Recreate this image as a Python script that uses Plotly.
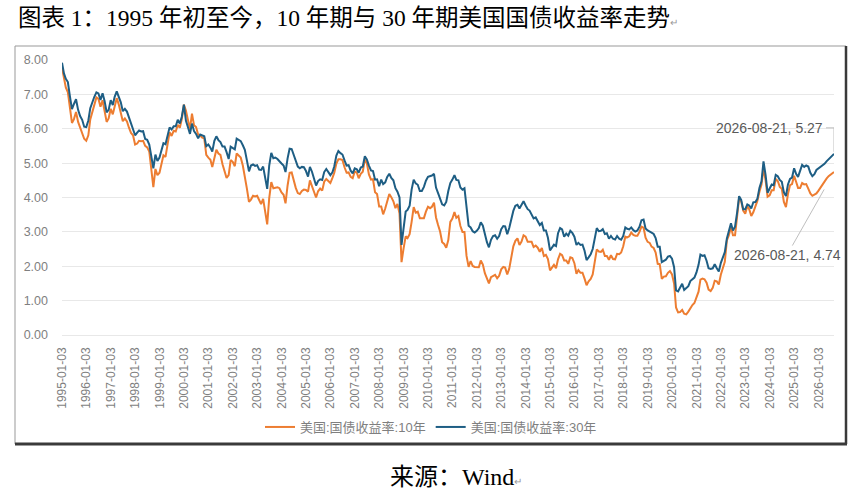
import pandas as pd
import plotly.graph_objects as go

# ---------------- data (monthly readings, %) ----------------
START_DATE = "1995-01-03"
END_DATE = "2026-08-21"
N_MONTHS = 380

TICK_LABELS = [f"{y}-01-03" for y in range(1995, 2027)]

YIELD_10Y = [
    7.78, 7.47, 7.20, 7.06, 6.63, 6.17, 6.28, 6.49, 6.20, 6.04, 5.93, 5.71,  # 1995
    5.65, 5.81, 6.27, 6.51, 6.74, 6.91, 6.87, 6.64, 6.83, 6.53, 6.20, 6.30,  # 1996
    6.58, 6.42, 6.69, 6.89, 6.71, 6.49, 6.22, 6.30, 6.21, 6.03, 5.88, 5.81,  # 1997
    5.54, 5.57, 5.65, 5.64, 5.65, 5.50, 5.46, 5.34, 4.81, 4.30, 4.83, 4.65,  # 1998
    4.72, 5.00, 5.23, 5.18, 5.54, 5.90, 5.79, 5.94, 5.92, 6.11, 6.03, 6.28,  # 1999
    6.70, 6.52, 6.26, 5.99, 6.44, 6.10, 6.05, 5.83, 5.80, 5.74, 5.72, 5.24,  # 2000
    5.16, 5.10, 4.89, 5.14, 5.39, 5.28, 5.24, 4.97, 4.73, 4.57, 4.65, 5.09,  # 2001
    5.04, 4.91, 5.28, 5.21, 5.16, 4.93, 4.65, 4.26, 3.87, 3.94, 4.05, 4.03,  # 2002
    4.05, 3.90, 3.81, 3.96, 3.57, 3.22, 3.98, 4.45, 4.27, 4.29, 4.30, 4.27,  # 2003
    4.15, 4.08, 3.83, 4.35, 4.72, 4.73, 4.50, 4.28, 4.13, 4.10, 4.19, 4.23,  # 2004
    4.22, 4.17, 4.50, 4.34, 4.14, 4.00, 4.18, 4.26, 4.20, 4.46, 4.54, 4.47,  # 2005
    4.42, 4.57, 4.72, 4.99, 5.11, 5.11, 5.09, 4.88, 4.72, 4.73, 4.60, 4.56,  # 2006
    4.76, 4.72, 4.56, 4.69, 4.75, 5.10, 5.00, 4.67, 4.52, 4.53, 4.15, 4.10,  # 2007
    3.74, 3.74, 3.51, 3.68, 3.88, 4.10, 4.01, 3.89, 3.69, 3.81, 3.53, 2.12,  # 2008
    2.52, 2.87, 2.82, 2.93, 3.29, 3.72, 3.56, 3.59, 3.40, 3.39, 3.40, 3.59,  # 2009
    3.73, 3.69, 3.73, 3.85, 3.42, 3.20, 3.01, 2.70, 2.65, 2.54, 2.76, 3.29,  # 2010
    3.39, 3.58, 3.41, 3.46, 3.17, 3.00, 3.00, 2.30, 1.98, 2.15, 2.01, 1.98,  # 2011
    1.97, 1.97, 2.17, 2.05, 1.80, 1.62, 1.50, 1.68, 1.72, 1.75, 1.65, 1.72,  # 2012
    1.91, 1.98, 1.96, 1.76, 1.93, 2.30, 2.58, 2.74, 2.81, 2.62, 2.72, 2.90,  # 2013
    2.86, 2.71, 2.72, 2.71, 2.56, 2.60, 2.54, 2.42, 2.53, 2.30, 2.33, 2.21,  # 2014
    1.88, 1.98, 2.04, 1.94, 2.20, 2.36, 2.32, 2.17, 2.17, 2.07, 2.26, 2.24,  # 2015
    2.09, 1.78, 1.89, 1.81, 1.81, 1.64, 1.45, 1.56, 1.63, 1.76, 2.14, 2.49,  # 2016
    2.43, 2.42, 2.48, 2.30, 2.30, 2.19, 2.32, 2.21, 2.20, 2.36, 2.35, 2.40,  # 2017
    2.58, 2.86, 2.84, 2.87, 2.98, 2.91, 2.89, 2.89, 3.00, 3.15, 3.12, 2.83,  # 2018
    2.71, 2.68, 2.57, 2.53, 2.40, 2.07, 2.06, 1.63, 1.70, 1.71, 1.81, 1.86,  # 2019
    1.76, 1.50, 0.80, 0.66, 0.67, 0.73, 0.62, 0.60, 0.68, 0.79, 0.87, 0.93,  # 2020
    1.08, 1.26, 1.61, 1.64, 1.62, 1.52, 1.32, 1.28, 1.37, 1.58, 1.56, 1.47,  # 2021
    1.76, 1.93, 2.13, 2.75, 2.90, 3.14, 2.90, 2.90, 3.52, 3.98, 3.89, 3.62,  # 2022
    3.53, 3.75, 3.66, 3.46, 3.57, 3.75, 3.90, 4.17, 4.38, 4.85, 4.50, 4.02,  # 2023
    4.06, 4.21, 4.21, 4.54, 4.48, 4.31, 4.25, 3.87, 3.72, 4.10, 4.36, 4.39,  # 2024
    4.63, 4.45, 4.28, 4.28, 4.42, 4.38, 4.39, 4.26, 4.12, 4.05, 4.08, 4.12,  # 2025
    4.20, 4.30, 4.38, 4.48, 4.55, 4.62, 4.66, 4.74,                          # 2026
]

YIELD_30Y = [
    7.92, 7.61, 7.45, 7.36, 6.95, 6.57, 6.72, 6.86, 6.55, 6.37, 6.26, 6.06,  # 1995
    6.05, 6.24, 6.60, 6.79, 6.93, 7.06, 7.03, 6.84, 7.03, 6.81, 6.48, 6.55,  # 1996
    6.83, 6.69, 6.93, 7.09, 6.94, 6.77, 6.51, 6.58, 6.50, 6.33, 6.11, 5.99,  # 1997
    5.81, 5.89, 5.95, 5.92, 5.93, 5.70, 5.68, 5.54, 5.20, 4.85, 5.25, 5.06,  # 1998
    5.16, 5.37, 5.58, 5.55, 5.81, 6.04, 5.98, 6.07, 6.07, 6.26, 6.15, 6.35,  # 1999
    6.70, 6.23, 6.05, 5.85, 6.15, 5.93, 5.85, 5.72, 5.83, 5.80, 5.78, 5.49,  # 2000
    5.54, 5.45, 5.34, 5.65, 5.78, 5.67, 5.61, 5.48, 5.48, 5.32, 5.12, 5.48,  # 2001
    5.45, 5.40, 5.71, 5.67, 5.64, 5.52, 5.39, 5.08, 4.76, 4.93, 4.96, 4.92,  # 2002
    4.94, 4.81, 4.80, 4.90, 4.53, 4.25, 4.93, 5.30, 5.14, 5.16, 5.12, 5.07,  # 2003
    4.99, 4.93, 4.74, 5.14, 5.42, 5.41, 5.22, 5.06, 4.90, 4.85, 4.89, 4.88,  # 2004
    4.77, 4.61, 4.89, 4.75, 4.56, 4.35, 4.48, 4.53, 4.51, 4.74, 4.83, 4.73,  # 2005
    4.65, 4.73, 4.91, 5.22, 5.35, 5.29, 5.25, 5.08, 4.93, 4.94, 4.78, 4.70,  # 2006
    4.85, 4.82, 4.72, 4.87, 4.90, 5.20, 5.11, 4.93, 4.79, 4.77, 4.52, 4.53,  # 2007
    4.33, 4.52, 4.39, 4.44, 4.60, 4.69, 4.57, 4.50, 4.27, 4.17, 4.00, 2.62,  # 2008
    3.13, 3.59, 3.64, 3.76, 4.23, 4.52, 4.41, 4.37, 4.19, 4.19, 4.31, 4.49,  # 2009
    4.60, 4.62, 4.64, 4.69, 4.29, 4.13, 3.99, 3.80, 3.77, 3.87, 4.19, 4.42,  # 2010
    4.52, 4.65, 4.51, 4.50, 4.29, 4.23, 4.27, 3.65, 3.18, 3.13, 3.02, 2.98,  # 2011
    3.03, 3.11, 3.28, 3.18, 2.93, 2.70, 2.55, 2.77, 2.88, 2.90, 2.80, 2.88,  # 2012
    3.08, 3.17, 3.16, 2.93, 3.11, 3.40, 3.61, 3.76, 3.79, 3.68, 3.80, 3.89,  # 2013
    3.77, 3.66, 3.62, 3.52, 3.39, 3.42, 3.33, 3.20, 3.26, 3.04, 3.04, 2.83,  # 2014
    2.46, 2.57, 2.63, 2.59, 2.96, 3.11, 3.07, 2.86, 2.95, 2.89, 3.03, 2.97,  # 2015
    2.86, 2.62, 2.68, 2.62, 2.63, 2.45, 2.18, 2.26, 2.35, 2.50, 2.86, 3.11,  # 2016
    3.02, 3.03, 3.08, 2.94, 2.96, 2.80, 2.88, 2.80, 2.78, 2.88, 2.80, 2.77,  # 2017
    2.88, 3.13, 3.09, 3.07, 3.13, 3.05, 3.01, 3.04, 3.15, 3.34, 3.36, 3.10,  # 2018
    3.04, 3.02, 2.98, 2.94, 2.82, 2.57, 2.57, 2.12, 2.16, 2.19, 2.28, 2.30,  # 2019
    2.22, 1.97, 1.30, 1.27, 1.38, 1.49, 1.31, 1.36, 1.42, 1.57, 1.62, 1.67,  # 2020
    1.82, 2.04, 2.34, 2.30, 2.32, 2.16, 1.94, 1.92, 1.94, 2.06, 1.94, 1.85,  # 2021
    2.10, 2.25, 2.41, 2.81, 3.07, 3.25, 3.04, 3.15, 3.56, 4.04, 3.93, 3.66,  # 2022
    3.66, 3.80, 3.77, 3.68, 3.86, 3.87, 3.96, 4.28, 4.47, 5.05, 4.66, 4.14,  # 2023
    4.26, 4.38, 4.36, 4.66, 4.62, 4.51, 4.46, 4.15, 4.04, 4.38, 4.54, 4.58,  # 2024
    4.85, 4.68, 4.60, 4.77, 4.95, 4.89, 4.93, 4.90, 4.72, 4.62, 4.68, 4.80,  # 2025
    4.85, 4.88, 4.92, 4.98, 5.05, 5.12, 5.18, 5.27,                          # 2026
]

SERIES_NAMES = ["美国:国债收益率:10年", "美国:国债收益率:30年"]
TITLE = "图表 1：1995 年初至今，10 年期与 30 年期美国国债收益率走势"
SOURCE = "来源：Wind"

# ---------------- build ----------------
dates = pd.date_range("1995-01-01", periods=N_MONTHS, freq="MS").strftime("%Y-%m-%d").tolist()
dates[0] = START_DATE
dates[-1] = END_DATE

ORANGE = "#ED7D31"
BLUE = "#1E5E84"
GREY_TXT = "#7f7f7f"
SANS = "Liberation Sans, Arial, Noto Sans CJK SC"
SERIF = "Liberation Serif, Times New Roman, Noto Sans CJK SC"

# page body margin is removed below, so the figure fills the window
W, H = 859, 491
PLOT_L, PLOT_R, PLOT_T, PLOT_B = 62, 834, 60, 335      # window pixels
L, T, R, B = PLOT_L, PLOT_T, W - PLOT_R, H - PLOT_B
pw, ph = PLOT_R - PLOT_L, PLOT_B - PLOT_T


def xp(px):
    return (px - PLOT_L) / pw


def yp(py):
    return (PLOT_B - py) / ph


fig = go.Figure()
fig.add_trace(go.Scatter(x=dates, y=YIELD_10Y, mode="lines", name=SERIES_NAMES[0],
                         line=dict(color=ORANGE, width=2)))
fig.add_trace(go.Scatter(x=dates, y=YIELD_30Y, mode="lines", name=SERIES_NAMES[1],
                         line=dict(color=BLUE, width=2)))

fig.update_layout(
    width=W, height=H,
    margin=dict(l=L, r=R, t=T, b=B),
    paper_bgcolor="white", plot_bgcolor="white",
    title=dict(
        text=TITLE + "<span style='font-size:10px;color:#999999'>↵</span>",
        x=18 / W, xanchor="left", y=1 - 18 / H, yanchor="middle",
        font=dict(family=SERIF, size=23.5, color="black"),
    ),
    showlegend=True,
    legend=dict(orientation="h", x=xp(431), xanchor="center", y=yp(427), yanchor="middle",
                font=dict(family=SANS, size=13, color=GREY_TXT),
                itemwidth=30, bgcolor="rgba(0,0,0,0)", tracegroupgap=0),
    xaxis=dict(
        type="date", range=[START_DATE, END_DATE],
        tickmode="array", tickvals=TICK_LABELS, ticktext=TICK_LABELS,
        tickangle=-90, tickfont=dict(family=SANS, size=12, color=GREY_TXT),
        showgrid=False, showline=False, zeroline=False, ticks="",
        ticklabelstandoff=9,
    ),
    yaxis=dict(
        range=[0, 8], dtick=1, tickformat=".2f",
        tickfont=dict(family=SANS, size=12.5, color=GREY_TXT),
        showgrid=True, gridcolor="#e8e8e8", gridwidth=1.2,
        zeroline=True, zerolinecolor="#e8e8e8", zerolinewidth=1.2,
        showline=False, ticks="", ticklabelstandoff=13,
    ),
)

# frame around the chart (paper coordinates)
fig.add_shape(type="rect", xref="paper", yref="paper",
              x0=xp(15), x1=xp(846), y0=yp(444), y1=yp(46),
              line=dict(color="#999999", width=1), layer="above")
fig.add_shape(type="line", xref="paper", yref="paper",
              x0=xp(15), x1=xp(847), y0=yp(444), y1=yp(444),
              line=dict(color="#3a3a3a", width=3), layer="above")
fig.add_shape(type="line", xref="paper", yref="paper",
              x0=xp(846), x1=xp(846), y0=yp(444), y1=yp(46),
              line=dict(color="#3a3a3a", width=2.5), layer="above")

# end-point labels
last_date = dates[-1]
last_30 = YIELD_30Y[-1]
last_10 = YIELD_10Y[-1]
LABEL_COL = "#595959"
LEADER_COL = "#bfbfbf"

fig.add_annotation(x=last_date, y=last_30, xref="x", yref="y",
                   text=f"{last_date}, {last_30:.2f}", showarrow=False,
                   xanchor="right", yanchor="middle", xshift=-9, yshift=26,
                   font=dict(family=SANS, size=14, color=LABEL_COL))
fig.add_shape(type="path", xref="x", yref="y", xsizemode="pixel", ysizemode="pixel",
              xanchor=last_date, yanchor=last_30,
              path="M -8,26 L 0,26 L 0,2",
              line=dict(color=LEADER_COL, width=1))

fig.add_annotation(x=last_date, y=last_10, xref="x", yref="y",
                   text=f"{last_date}, {last_10:.2f}", showarrow=True,
                   arrowhead=0, arrowwidth=1, arrowcolor=LEADER_COL,
                   ax=-47, ay=83, standoff=20,
                   font=dict(family=SANS, size=14, color=LABEL_COL))

# source line
fig.add_annotation(x=xp(456), y=yp(477), xref="paper", yref="paper",
                   text=SOURCE + "<span style='font-size:10px;color:#999999'>↵</span>",
                   showarrow=False, xanchor="center", yanchor="middle",
                   font=dict(family=SERIF, size=24, color="black"))

fig.write_html(
    "out.html",
    config={"displayModeBar": False},
    post_script="document.body.style.margin='0px';document.body.style.overflow='hidden';",
)
